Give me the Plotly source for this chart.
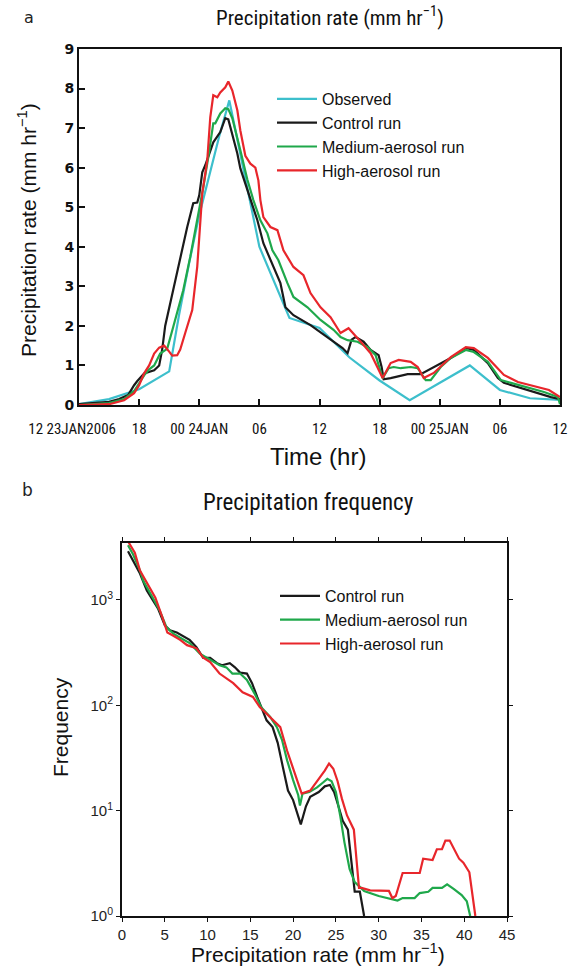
import plotly.graph_objects as go

# ---------------- Panel a: precipitation rate time series ----------------
# hours since 12Z 23 JAN 2006
time_ticks_h = [0, 6, 12, 18, 24, 30, 36, 42, 48]
time_tick_text = ["12 23JAN2006" + "\u00a0" * 4, "18", "00 24JAN", "06", "12", "18", "00 25JAN", "06", "12"]

obs_h = [0, 3, 6, 9, 10, 11, 12, 13, 14, 15, 18, 21, 24, 27, 30, 33, 36, 39, 42, 45, 48]
obs_v = [0.02, 0.15, 0.4, 0.85, 2.3, 3.6, 4.8, 5.8, 6.8, 7.7, 4.0, 2.2, 1.95, 1.2, 0.62, 0.12, 0.56, 1.0, 0.38, 0.17, 0.13]

ctl_h = [0, 2, 3, 4, 4.9, 5.5, 5.8, 6.5, 7.5, 8.0, 8.3, 8.6, 9.4, 10.1, 10.8, 11.4, 11.8, 12.0, 12.3, 12.6,
         13.4, 14.1, 14.6, 14.9, 15.4, 15.8, 16.1, 17.1, 17.8, 18.4, 19.4, 20.1, 20.6, 21.4, 23.1, 24.8,
         26.3, 26.8, 27.2, 27.6, 28.4, 29.1, 29.9, 30.2, 30.4, 31.1, 32.8, 34.1, 35.4, 37.1, 38.6, 39.4,
         40.8, 41.8, 42.4, 43.8, 45.4, 47.1, 48]
ctl_v = [0.02, 0.05, 0.08, 0.15, 0.25, 0.5, 0.6, 0.8, 0.88, 1.0, 1.4, 2.0, 2.9, 3.74, 4.5, 5.1, 5.12, 5.3, 5.88, 6.06,
         6.64, 6.9, 7.25, 7.22, 6.77, 6.36, 5.98, 5.18, 4.67, 4.09, 3.49, 3.08, 2.47, 2.27, 2.02, 1.72,
         1.44, 1.31, 1.65, 1.72, 1.6, 1.39, 1.26, 0.96, 0.65, 0.68, 0.78, 0.78, 0.96, 1.19, 1.44, 1.39,
         1.06, 0.68, 0.56, 0.45, 0.33, 0.2, 0.15]

med_h = [0, 3, 4.5, 5.5, 6, 6.5, 7.0, 7.5, 8.1, 8.8, 9.4, 10.4, 11.1, 11.8, 12.4, 12.9, 13.4, 13.6, 14.1, 14.6,
         14.9, 15.3, 15.8, 16.1, 16.8, 17.4, 18.1, 18.8, 19.3, 19.9, 20.8, 21.4, 22.8, 24.1, 25.4, 26.1,
         26.8, 27.8, 28.8, 29.6, 30.3, 30.9, 31.4, 32.1, 33.1, 33.8, 34.6, 35.1, 36.1, 37.1, 38.6, 39.4,
         40.8, 42.1, 43.1, 44.8, 46.4, 47.8, 48]
med_v = [0.0, 0.05, 0.15, 0.35, 0.55, 0.75, 0.9, 1.0, 1.3, 1.42, 1.97, 2.9, 3.74, 4.67, 5.5, 6.26, 7.12, 7.12, 7.37, 7.5,
         7.48, 7.25, 6.77, 6.44, 5.7, 5.18, 4.67, 4.34, 3.91, 3.66, 3.08, 2.73, 2.47, 2.15, 1.9, 1.72,
         1.64, 1.6, 1.46, 1.26, 0.68, 0.93, 0.96, 0.93, 0.96, 0.93, 0.63, 0.63, 0.96, 1.19, 1.39, 1.34,
         1.09, 0.63, 0.56, 0.45, 0.33, 0.2, 0.02]

high_h = [0, 3, 4.5, 5.5, 6, 6.5, 7.0, 7.5, 8.0, 8.5, 9.0, 9.3, 9.8, 10.1, 10.6, 11.3, 11.8, 12.1, 12.3, 12.8,
          13.1, 13.4, 13.8, 14.1, 14.6, 14.9, 15.3, 15.8, 16.1, 16.6, 17.1, 17.6, 17.9, 18.1, 18.4, 19.1,
          19.8, 20.4, 21.4, 22.4, 23.1, 24.1, 25.1, 26.1, 26.9, 27.8, 29.1, 30.3, 31.1, 31.9, 33.1, 33.8,
          34.4, 35.4, 37.1, 38.6, 39.4, 40.8, 42.4, 43.8, 45.8, 46.9, 48]
high_v = [0.0, 0.02, 0.12, 0.3, 0.5, 0.8, 1.0, 1.3, 1.45, 1.5, 1.35, 1.25, 1.26, 1.4, 1.82, 2.4, 3.5, 4.75, 5.35, 6.19,
          7.27, 7.83, 7.78, 7.9, 8.03, 8.18, 7.95, 7.45, 6.94, 6.3, 6.1, 6.0, 5.68, 5.18, 4.75, 4.5,
          4.42, 3.91, 3.49, 3.28, 2.83, 2.47, 2.22, 1.82, 1.94, 1.69, 1.31, 0.68, 1.06, 1.14, 1.09, 0.96,
          0.68, 0.81, 1.21, 1.46, 1.44, 1.19, 0.76, 0.58, 0.45, 0.38, 0.2]

# ---------------- Panel b: precipitation frequency ----------------
ctl_r = [0.7, 1.3, 2.1, 2.9, 3.5, 4.2, 5.0, 5.6, 6.4, 7.1, 7.9, 8.7, 9.5, 10.3, 11.1, 11.7, 12.6, 13.2, 13.8,
         14.6, 15.2, 15.8, 16.4, 16.9, 17.6, 18.2, 18.8, 19.4, 20.0, 20.6, 20.9, 21.5, 22.0, 23.0, 23.7,
         24.3, 24.8, 25.3, 25.8, 26.4, 26.9, 27.2, 27.8, 28.3]
ctl_f = [2900, 2350, 1780, 1230, 1020, 830, 575, 515, 490, 457, 417, 355, 282, 282, 251, 240, 251, 229, 204,
         200, 162, 120, 89, 72, 62, 44, 26, 15.5, 12.6, 8.7, 7.4, 11, 13.5, 15, 17,
         17.5, 15, 11, 8, 6.6, 2.7, 1.7, 1.7, 1.0]

med_r = [0.7, 1.3, 2.1, 2.5, 3.6, 4.4, 5.2, 6.0, 6.8, 7.9, 9.1, 10.3, 11.4, 12.2, 12.9, 13.8, 14.6, 15.5,
         16.3, 17.3, 18.1, 18.7, 19.3, 20.0, 20.6, 20.8, 21.1, 21.9, 22.8, 23.5, 24.0, 24.5, 25.0, 25.5,
         26.0, 26.6, 27.2, 28.3, 30.0, 32.2, 32.8, 34.2, 34.8, 35.8, 36.3, 37.4, 38.0, 38.8, 39.7, 40.3, 40.7]
med_f = [3300, 2700, 1900, 1510, 1050, 795, 550, 479, 437, 389, 309, 269, 240, 229, 200, 200, 174, 129,
         95, 78, 62, 47, 30, 19.5, 14, 11.2, 14.5, 15, 16.6, 18.5, 20, 19, 15, 9,
         5, 2.8, 2.1, 1.73, 1.55, 1.4, 1.48, 1.48, 1.65, 1.7, 1.85, 1.85, 2.0, 1.8, 1.58, 1.38, 1.0]

high_r = [0.7, 1.5, 2.1, 3.3, 3.9, 4.7, 5.3, 6.0, 6.8, 7.6, 8.7, 9.5, 10.3, 11.4, 13.0, 14.1, 15.3, 16.1,
          17.6, 18.5, 19.3, 20.2, 21.0, 22.0, 23.0, 23.7, 24.2, 24.7, 25.2, 25.7, 26.3, 27.1, 27.7, 28.0,
          29.0, 30.0, 31.2, 31.6, 32.0, 32.8, 34.8, 35.2, 36.3, 36.8, 37.4, 37.8, 38.3, 39.4, 39.9, 40.6, 41.3]
high_f = [3600, 2800, 1900, 1290, 1050, 690, 490, 457, 417, 372, 347, 283, 257, 200, 162, 133, 120, 96,
          72, 62, 37, 23, 14.5, 15.5, 20, 24, 28, 25, 19, 13, 9, 6.6, 1.85, 1.85,
          1.75, 1.73, 1.73, 1.48, 1.55, 2.56, 2.56, 3.5, 3.4, 4.3, 4.3, 5.2, 5.2, 3.5, 3.2, 2.6, 1.0]

freq_ticks = [1, 10, 100, 1000]
freq_tick_text = ["10<sup>0</sup>", "10<sup>1</sup>", "10<sup>2</sup>", "10<sup>3</sup>"]

C_OBS = "#3DBFCC"
C_CTL = "#1A1A1A"
C_MED = "#1FA84B"
C_HIGH = "#E8262B"

W, H = 572, 968
NARROW = "Roboto Condensed, Liberation Sans Narrow, Arial Narrow, Roboto, Liberation Sans"
SANS = "Liberation Sans, Arial, sans-serif"

fig = go.Figure()

lw = 2.2
fig.add_trace(go.Scatter(x=obs_h, y=obs_v, mode="lines", name="Observed",
                         line=dict(color=C_OBS, width=lw), xaxis="x", yaxis="y", legend="legend"))
fig.add_trace(go.Scatter(x=ctl_h, y=ctl_v, mode="lines", name="Control run",
                         line=dict(color=C_CTL, width=lw), xaxis="x", yaxis="y", legend="legend"))
fig.add_trace(go.Scatter(x=med_h, y=med_v, mode="lines", name="Medium-aerosol run",
                         line=dict(color=C_MED, width=lw), xaxis="x", yaxis="y", legend="legend"))
fig.add_trace(go.Scatter(x=high_h, y=high_v, mode="lines", name="High-aerosol run",
                         line=dict(color=C_HIGH, width=lw), xaxis="x", yaxis="y", legend="legend"))

fig.add_trace(go.Scatter(x=ctl_r, y=ctl_f, mode="lines", name="Control run",
                         line=dict(color=C_CTL, width=lw), xaxis="x2", yaxis="y2", legend="legend2"))
fig.add_trace(go.Scatter(x=med_r, y=med_f, mode="lines", name="Medium-aerosol run",
                         line=dict(color=C_MED, width=lw), xaxis="x2", yaxis="y2", legend="legend2"))
fig.add_trace(go.Scatter(x=high_r, y=high_f, mode="lines", name="High-aerosol run",
                         line=dict(color=C_HIGH, width=lw), xaxis="x2", yaxis="y2", legend="legend2"))


def px(xp):
    return xp / W


def py(yp):
    return 1 - yp / H


axis_common = dict(showgrid=False, zeroline=False, showline=True, linecolor="#111", linewidth=2,
                   automargin=False)

fig.update_layout(
    width=W, height=H,
    margin=dict(l=0, r=0, t=0, b=0, autoexpand=False),
    paper_bgcolor="white", plot_bgcolor="white",
    xaxis=dict(domain=[px(79), px(560)], range=[0, 48], tickvals=time_ticks_h, ticktext=time_tick_text,
               ticks="inside", ticklen=6, tickwidth=1.5, tickcolor="#111", mirror=True, tickangle=0,
               ticklabelstandoff=9,
               tickfont=dict(family=NARROW, size=15, color="#111"), anchor="y", **axis_common),
    yaxis=dict(domain=[py(405), py(49)], range=[0, 9], dtick=1, ticks="inside", ticklen=6, tickwidth=1.5,
               tickcolor="#111", mirror=True,
               tickfont=dict(family="DejaVu Sans", size=14, color="#111", weight="bold"), anchor="x",
               **axis_common),
    xaxis2=dict(domain=[px(122), px(507)], range=[0, 45], dtick=5, ticks="outside", ticklen=4, tickwidth=1,
                tickcolor="#111", mirror="ticks",
                tickfont=dict(family=SANS, size=15, color="#222"), anchor="y2", **axis_common),
    yaxis2=dict(domain=[py(916), py(543)], type="log", range=[0, 3.54], tickvals=freq_ticks,
                ticktext=freq_tick_text, ticks="outside", ticklen=4, tickwidth=1, tickcolor="#111",
                mirror="ticks", tickfont=dict(family=SANS, size=15, color="#222"), anchor="x2",
                **axis_common),
    legend=dict(x=px(272), y=py(82), xanchor="left", yanchor="top", bgcolor="rgba(0,0,0,0)",
                font=dict(family=SANS, size=16, color="#111"), tracegroupgap=0, itemwidth=40),
    legend2=dict(x=px(275), y=py(579), xanchor="left", yanchor="top", bgcolor="rgba(0,0,0,0)",
                 font=dict(family=SANS, size=16, color="#111"), tracegroupgap=0, itemwidth=40),
    showlegend=True,
)

annotations = [
    dict(text="a", x=px(29), y=py(17), font=dict(family="DejaVu Sans", size=16, color="#222")),
    dict(text="b", x=px(27), y=py(490), font=dict(family="DejaVu Sans", size=17, color="#222")),
    dict(text="Precipitation rate (mm hr<sup>\u22121</sup>)", x=px(330), y=py(16),
         font=dict(family=NARROW, size=21, color="#111")),
    dict(text="Precipitation rate (mm hr<sup>\u22121</sup>)", x=px(27), y=py(230), textangle=-90,
         font=dict(family=SANS, size=21, color="#111")),
    dict(text="Time (hr)", x=px(318), y=py(456), font=dict(family=SANS, size=24, color="#111")),
    dict(text="Precipitation frequency", x=px(308), y=py(503), font=dict(family=NARROW, size=23, color="#111")),
    dict(text="Frequency", x=px(60), y=py(727), textangle=-90, font=dict(family=SANS, size=21, color="#111")),
    dict(text="Precipitation rate (mm hr<sup>\u22121</sup>)", x=px(318), y=py(953),
         font=dict(family=SANS, size=21, color="#111")),
]
for a in annotations:
    a.update(xref="paper", yref="paper", showarrow=False, xanchor="center", yanchor="middle")
fig.update_layout(annotations=annotations)

fig.write_html("out.html")
